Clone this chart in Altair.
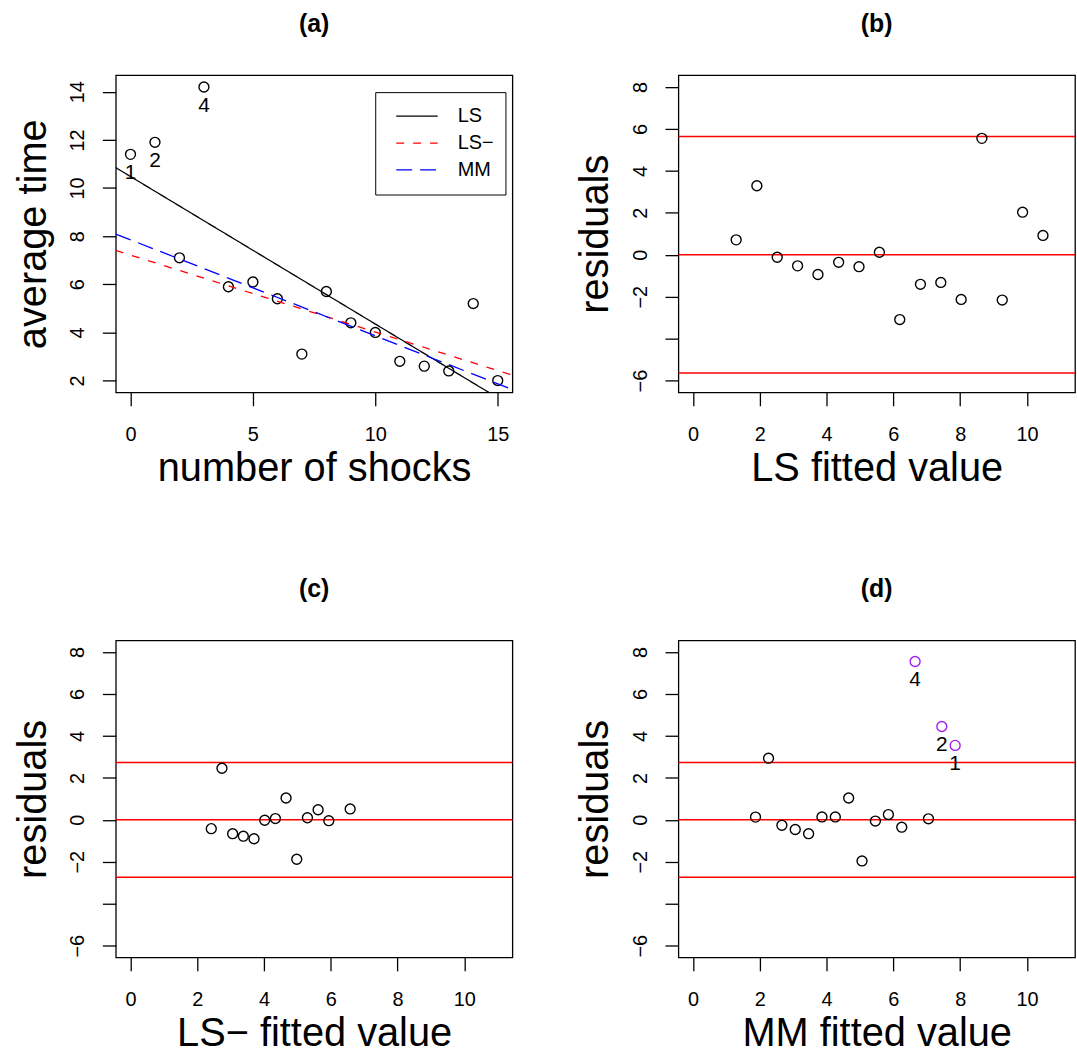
import altair as alt
import pandas as pd

FONT = "Liberation Sans"

# ---------------- data ----------------
shocks = list(range(16))
avg_time = [11.4, 11.9, 7.1, 14.2, 5.9, 6.1, 5.4, 3.1, 5.7, 4.4, 4.0, 2.8, 2.6, 2.4, 5.2, 2.0]
obs_ids = list(range(1, 17))
labelled = [1, 2, 4]

fit_names = ["LS", "LS\u2212", "MM"]
fit_intercepts = [10.48, 7.215, 7.85]
fit_slopes = [-0.613, -0.3198, -0.399]
fit_colors = ["black", "red", "blue"]
fit_dashes = [[1, 0], [8, 9], [16, 8]]

ls_fitted = [10.48, 9.87, 9.26, 8.65, 8.03, 7.42, 6.81, 6.19, 5.58, 4.97, 4.36, 3.74, 3.13, 2.52, 1.91, 1.29]
ls_resid = [0.92, 2.03, -2.16, 5.55, -2.13, -1.32, -1.41, -3.09, 0.12, -0.57, -0.36, -0.94, -0.53, -0.12, 3.29, 0.71]

lsm_obs = [3, 5, 6, 7, 8, 9, 10, 11, 12, 13, 14, 15, 16]
lsm_fitted = [6.58, 5.94, 5.62, 5.30, 4.98, 4.66, 4.34, 4.02, 3.70, 3.38, 3.06, 2.74, 2.42]
lsm_resid = [0.52, -0.04, 0.48, 0.10, -1.88, 1.04, 0.06, -0.02, -0.90, -0.78, -0.66, 2.46, -0.42]

mm_fitted = [7.85, 7.45, 7.05, 6.65, 6.25, 5.85, 5.46, 5.06, 4.66, 4.26, 3.86, 3.46, 3.06, 2.66, 2.26, 1.87]
mm_resid = [3.55, 4.45, 0.05, 7.55, -0.35, 0.25, -0.06, -1.96, 1.04, 0.14, 0.14, -0.66, -0.46, -0.26, 2.94, 0.13]

ls_cutoff = 5.64
lsm_cutoff = 2.74

xa_domain = [-0.6, 15.6]
ya_domain = [1.512, 14.688]
xr_domain = [-0.44, 11.44]
yr_domain = [-6.56, 8.56]

W, H = 399, 319
PURPLE = "#A020F0"


def title(t):
    return alt.Title(t, font=FONT, fontSize=25, fontWeight="bold", color="black",
                     anchor="middle", frame="group", baseline="alphabetic", offset=19)


# ---------------- panel (a) ----------------
df_a = pd.DataFrame({"shocks": shocks, "time": avg_time, "obs": obs_ids})
df_a["lab"] = [str(o) if o in labelled else "" for o in obs_ids]

xa = alt.X("shocks:Q", scale=alt.Scale(domain=xa_domain, nice=False, zero=False),
           axis=alt.Axis(values=[0, 5, 10, 15], title="number of shocks"))
ya = alt.Y("time:Q", scale=alt.Scale(domain=ya_domain, nice=False, zero=False),
           axis=alt.Axis(values=[2, 4, 6, 8, 10, 12, 14], title="average time"))

fit_rows = []
for n, b0, b1 in zip(fit_names, fit_intercepts, fit_slopes):
    for xv in xa_domain:
        fit_rows.append({"fit": n, "shocks": xv, "time": b0 + b1 * xv})
df_fit = pd.DataFrame(fit_rows)

legend = alt.Legend(orient="none", legendX=261, legendY=17, title=None,
                    labelFont=FONT, labelFontSize=20, labelColor="black",
                    symbolType="stroke", symbolSize=1739, symbolStrokeWidth=1.3,
                    symbolOffset=9, labelOffset=19, clipHeight=26.4, rowPadding=0,
                    padding=11, strokeColor="black", fillColor="white")

lines = alt.Chart(df_fit).mark_line(clip=True, strokeWidth=1.3).encode(
    x=xa, y=ya,
    color=alt.Color("fit:N", scale=alt.Scale(domain=fit_names, range=fit_colors), legend=legend),
    strokeDash=alt.StrokeDash("fit:N", scale=alt.Scale(domain=fit_names, range=fit_dashes), legend=legend),
)
pts_a = alt.Chart(df_a).mark_point(shape="circle", filled=False, size=100, strokeWidth=1.4,
                                   color="black", opacity=1).encode(x=xa, y=ya)
labs_a = alt.Chart(df_a).transform_filter("datum.lab != ''").mark_text(
    font=FONT, fontSize=21, color="black", dy=19).encode(x=xa, y=ya, text="lab:N")

panel_a = alt.layer(pts_a, lines, labs_a).properties(width=W, height=H, title=title("(a)"))


# ---------------- residual panels ----------------
def resid_panel(fitted, resid, ids, cutoff, xlab, ttl, highlight):
    df = pd.DataFrame({"fitted": fitted, "resid": resid, "obs": ids})
    df["flag"] = [bool(highlight and o in labelled) for o in ids]
    df["lab"] = [str(o) if f else "" for o, f in zip(ids, df["flag"])]
    x = alt.X("fitted:Q", scale=alt.Scale(domain=xr_domain, nice=False, zero=False),
              axis=alt.Axis(values=[0, 2, 4, 6, 8, 10], title=xlab))
    y = alt.Y("resid:Q", scale=alt.Scale(domain=yr_domain, nice=False, zero=False),
              axis=alt.Axis(values=[-6, -4, -2, 0, 2, 4, 6, 8], title="residuals",
                            labelExpr="datum.value == -4 ? '' : datum.label"))
    cuts = pd.DataFrame({"resid": [-cutoff, 0.0, cutoff]})
    rules = alt.Chart(cuts).mark_rule(color="red", strokeWidth=1.5).encode(y=y)
    pts = alt.Chart(df).mark_point(shape="circle", filled=False, size=100, strokeWidth=1.4,
                                   opacity=1).encode(
        x=x, y=y,
        color=alt.condition("datum.flag", alt.value(PURPLE), alt.value("black")))
    layers = [rules, pts]
    if highlight:
        labs = alt.Chart(df).transform_filter("datum.flag").mark_text(
            font=FONT, fontSize=21, color="black", dy=19).encode(x=x, y=y, text="lab:N")
        layers.append(labs)
    return alt.layer(*layers).properties(width=W, height=H, title=title(ttl))


panel_b = resid_panel(ls_fitted, ls_resid, obs_ids, ls_cutoff, "LS fitted value", "(b)", False)
panel_c = resid_panel(lsm_fitted, lsm_resid, lsm_obs, lsm_cutoff, "LS\u2212 fitted value", "(c)", False)
panel_d = resid_panel(mm_fitted, mm_resid, obs_ids, lsm_cutoff, "MM fitted value", "(d)", True)

chart = alt.concat(
    panel_a, panel_b, panel_c, panel_d, columns=2,
    spacing={"row": 249.5, "column": 167}, bounds="flush",
).resolve_scale(
    color="independent", strokeDash="independent"
).resolve_legend(
    color="independent", strokeDash="independent"
).properties(
    padding={"left": 12.5, "top": 7.5, "right": 0, "bottom": 0}
).configure_view(
    stroke="black", strokeWidth=1.3
).configure_axis(
    grid=False, domain=False, ticks=True, tickColor="black", tickSize=13.5, tickWidth=1.3,
    labelFont=FONT, labelFontSize=20, labelColor="black",
    titleFont=FONT, titleFontSize=40, titleFontWeight="normal", titleColor="black",
).configure_axisX(
    labelBaseline="alphabetic", labelAlign="center", labelPadding=35,
    titleBaseline="alphabetic", titleAlign="center", titleX=W / 2, titleY=88.5,
).configure_axisY(
    labelAngle=-90, labelAlign="center", labelBaseline="alphabetic", labelPadding=19,
    titleAngle=-90, titleBaseline="alphabetic", titleAlign="center", titleX=-71, titleY=H / 2,
)

chart.save("out.html", embed_options={"renderer": "svg", "actions": False})
